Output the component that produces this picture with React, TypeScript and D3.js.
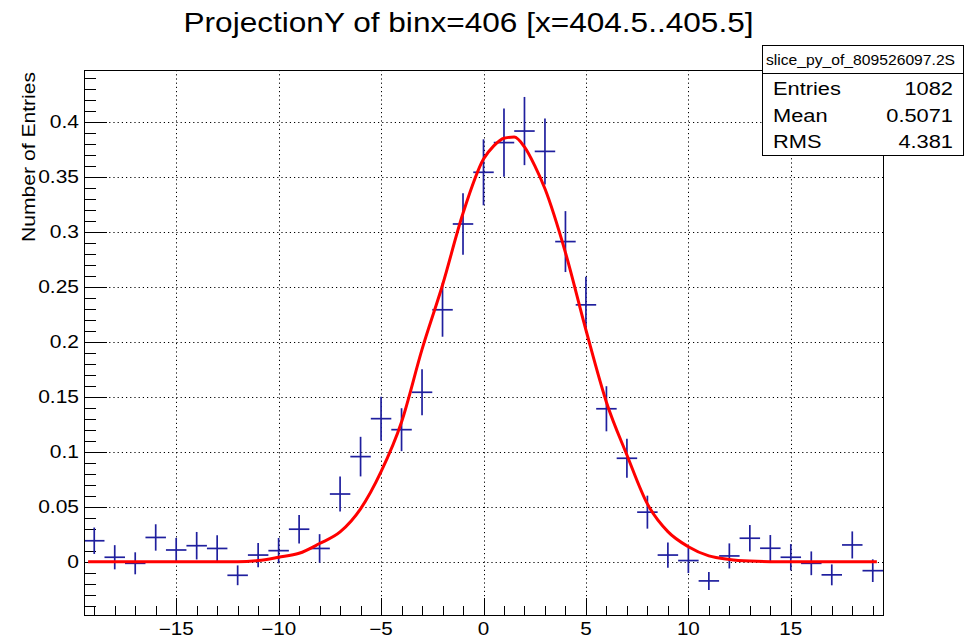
import React from "react";
import * as d3 from "d3";

const binCenters = [-19,-18,-17,-16,-15,-14,-13,-12,-11,-10,-9,-8,-7,-6,-5,-4,-3,-2,-1,0,1,2,3,4,5,6,7,8,9,10,11,12,13,14,15,16,17,18,19];
const binValues = [0.019,0.004,-0.0015,0.022,0.0106,0.0145,0.012,-0.0124,0.006,0.010,0.0295,0.012,0.0615,0.0955,0.130,0.120,0.154,0.229,0.307,0.354,0.381,0.3915,0.373,0.291,0.2335,0.139,0.094,0.045,0.006,0.001,-0.0175,0.0052,0.0213,0.0122,0.004,-0.0015,-0.012,0.0152,-0.0082];
const binErrors = [0.012,0.011,0.010,0.012,0.011,0.0125,0.012,0.009,0.011,0.0115,0.013,0.013,0.016,0.018,0.020,0.0195,0.021,0.0245,0.028,0.030,0.031,0.031,0.030,0.0277,0.0256,0.0205,0.0177,0.015,0.0115,0.0114,0.0082,0.0114,0.012,0.012,0.012,0.0108,0.0095,0.0123,0.0103];

const fitX = [-19.3,-12,-11,-10,-9,-8,-7,-6,-5,-4,-3,-2,-1,0,0.5,1,1.5,2,2.5,3,4,5,6,7,8,9,10,11,12,13,14,19.2];
const fitY = [0,0,0.001,0.004,0.0076,0.0165,0.027,0.048,0.0818,0.127,0.193,0.2515,0.3167,0.366,0.378,0.385,0.386,0.377,0.36,0.339,0.281,0.2106,0.145,0.097,0.0525,0.0273,0.0136,0.0052,0.002,0.0005,0,0];

const xMajorTicks = [-15,-10,-5,0,5,10,15];
const xMinorTicks = [-19,-18,-17,-16,-15,-14,-13,-12,-11,-10,-9,-8,-7,-6,-5,-4,-3,-2,-1,0,1,2,3,4,5,6,7,8,9,10,11,12,13,14,15,16,17,18,19];
const yMajorTicks = [0,0.05,0.1,0.15,0.2,0.25,0.3,0.35,0.4];
const yTickLabels = ["0","0.05","0.1","0.15","0.2","0.25","0.3","0.35","0.4"];

const titleText = "ProjectionY of binx=406 [x=404.5..405.5]";
const yAxisTitle = "Number of Entries";
const statsName = "slice_py_of_809526097.2S";
const statsLabels = ["Entries","Mean","RMS"];
const statsValues = ["1082","0.5071","4.381"];

const FONT = "'Liberation Sans', Arial, Helvetica, sans-serif";

function T(props: { x: number; y: number; size: number; sx: number; anchor?: string; rotate?: number; children: React.ReactNode }) {
  const { x, y, size, sx, anchor = "start", rotate = 0, children } = props;
  return (
    <text
      transform={`translate(${x},${y}) rotate(${rotate}) scale(${sx},1)`}
      textAnchor={anchor as any}
      fontSize={size}
      fill="#000"
    >
      {children}
    </text>
  );
}

export default function App() {
  const W = 965, H = 638;
  const left = 84, right = 883, top = 70, bottom = 615;
  const x = d3.scaleLinear().domain([-19.5, 19.5]).range([left, right]);
  const y = d3.scaleLinear().domain([-0.0485, 0.447]).range([bottom, top]);

  const yMinor = d3.range(-4, 45).map((i) => i * 0.01);

  const line = d3.line<number>()
    .x((_, i) => x(fitX[i]))
    .y((d) => y(d))
    .curve(d3.curveMonotoneX);

  const blue = "#1f1f9e";
  const fmtMinus = (v: number) => (v < 0 ? "\u2212" + Math.abs(v) : String(v));

  return (
    <svg width={W} height={H} style={{ position: "fixed", left: 0, top: 0, background: "#fff" }} fontFamily={FONT}>
      <rect x={0} y={0} width={W} height={H} fill="#fff" />
      <defs>
        <clipPath id="frameClip">
          <rect x={left} y={top} width={right - left} height={bottom - top} />
        </clipPath>
      </defs>

      {/* grid */}
      <g stroke="#000" strokeWidth={1} strokeDasharray="1.2,3">
        {xMajorTicks.map((t) => (
          <line key={"gx" + t} x1={Math.round(x(t)) + 0.5} x2={Math.round(x(t)) + 0.5} y1={top} y2={bottom} />
        ))}
        {yMajorTicks.map((t) => (
          <line key={"gy" + t} x1={left} x2={right} y1={Math.round(y(t)) + 0.5} y2={Math.round(y(t)) + 0.5} />
        ))}
      </g>

      {/* ticks */}
      <g stroke="#000" strokeWidth={1}>
        {xMinorTicks.map((t) => {
          const major = t % 5 === 0;
          const px = Math.round(x(t)) + 0.5;
          return <line key={"xt" + t} x1={px} x2={px} y1={bottom} y2={bottom - (major ? 17 : 9)} />;
        })}
        {yMinor.map((t, i) => {
          const major = Math.round(t * 100) % 5 === 0;
          const py = Math.round(y(t)) + 0.5;
          return <line key={"yt" + i} x1={left} x2={left + (major ? 23 : 12)} y1={py} y2={py} />;
        })}
      </g>

      {/* data crosses */}
      <g clipPath="url(#frameClip)" stroke={blue} strokeWidth={1.7}>
        {binCenters.map((c, i) => (
          <g key={"b" + c}>
            <line x1={x(c - 0.5)} x2={x(c + 0.5)} y1={y(binValues[i])} y2={y(binValues[i])} />
            <line x1={x(c)} x2={x(c)} y1={y(binValues[i] - binErrors[i])} y2={y(binValues[i] + binErrors[i])} />
          </g>
        ))}
      </g>

      {/* fit */}
      <path d={line(fitY) || ""} fill="none" stroke="#ff0000" strokeWidth={3} strokeLinejoin="round" />

      {/* frame */}
      <rect x={left + 0.5} y={top + 0.5} width={right - left} height={bottom - top} fill="none" stroke="#000" strokeWidth={1} />

      {/* x tick labels */}
      {xMajorTicks.map((t) => (
        <T key={"xl" + t} x={x(t)} y={635} size={17.5} sx={1.18} anchor="middle">{fmtMinus(t)}</T>
      ))}

      {/* y tick labels */}
      {yMajorTicks.map((t, i) => (
        <T key={"yl" + t} x={79} y={y(t) + 6} size={17.5} sx={1.2} anchor="end">{yTickLabels[i]}</T>
      ))}

      {/* y axis title */}
      <T x={35} y={72} size={18.5} sx={1.14} anchor="end" rotate={-90}>{yAxisTitle}</T>

      {/* title */}
      <T x={468.5} y={31.7} size={27} sx={1.17} anchor="middle">{titleText}</T>

      {/* stats box */}
      <g>
        <rect x={762.5} y={45.5} width={201} height={110} fill="#fff" stroke="#000" strokeWidth={1} />
        <line x1={762.5} x2={963.5} y1={73.5} y2={73.5} stroke="#000" strokeWidth={1} />
        <T x={860.5} y={65} size={14} sx={1.12} anchor="middle">{statsName}</T>
        {statsLabels.map((l, i) => (
          <g key={l}>
            <T x={773} y={95 + i * 26.7} size={18.5} sx={1.18}>{l}</T>
            <T x={953} y={95 + i * 26.7} size={18.5} sx={1.18} anchor="end">{statsValues[i]}</T>
          </g>
        ))}
      </g>
    </svg>
  );
}
